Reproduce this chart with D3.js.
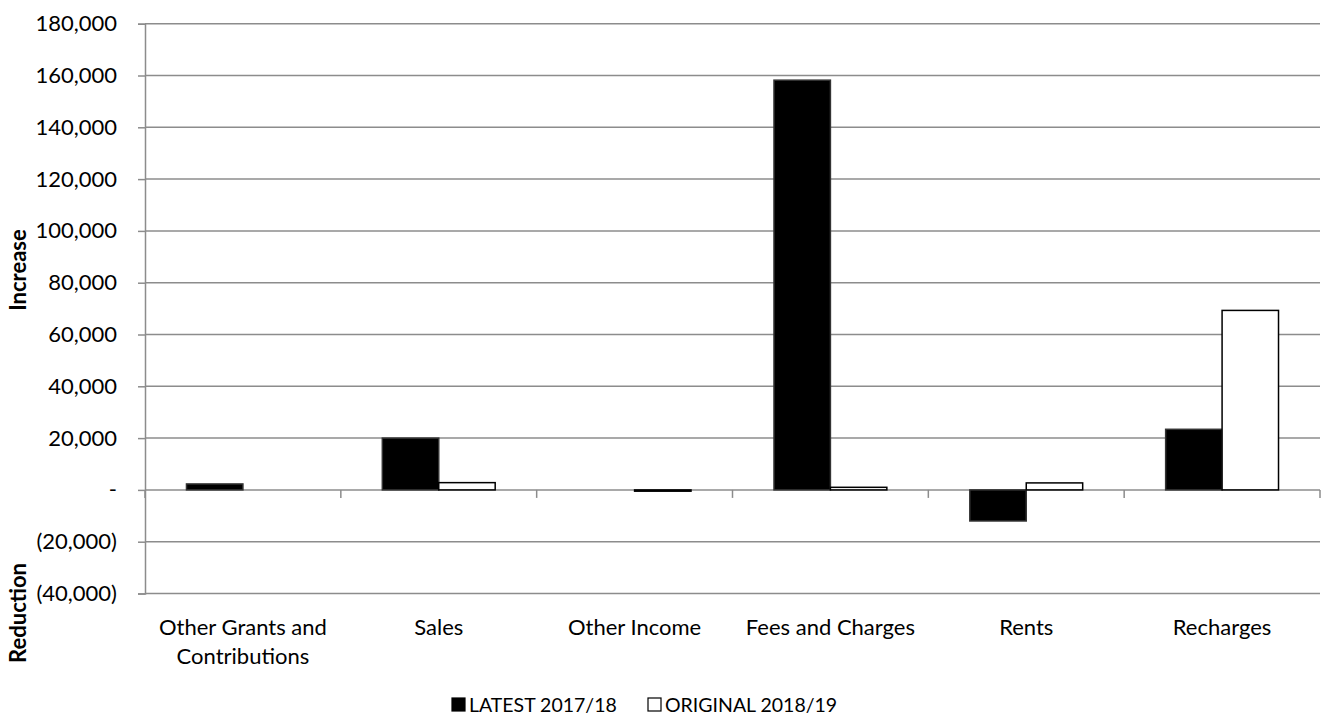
<!DOCTYPE html>
<html><head><meta charset="utf-8">
<script src="https://cdn.jsdelivr.net/npm/d3@7"></script>
<style>body{margin:0;background:#fff} text{font-family:Lato,"Open Sans",sans-serif;fill:#000}</style>
</head><body><svg id="c" width="1332" height="720"></svg>
<script>
const categories = ["Other Grants and Contributions","Sales","Other Income","Fees and Charges","Rents","Recharges"];
const categoryLines = [["Other Grants and","Contributions"],["Sales"],["Other Income"],["Fees and Charges"],["Rents"],["Recharges"]];
const seriesNames = ["LATEST 2017/18","ORIGINAL 2018/19"];
const latest = [2300, 20000, 0, 158200, -12000, 23400];
const original = [0, 2800, -500, 1000, 2700, 69300];
const yTicks = [-40000,-20000,0,20000,40000,60000,80000,100000,120000,140000,160000,180000];

const svg = d3.select("#c");
const L = 145, R = 1320, T = 23.7, B = 593.5;
const y = d3.scaleLinear().domain([-40000,180000]).range([B,T]);
const x0 = d3.scaleBand().domain(categories).range([L,R]).padding(0);
const x1 = d3.scaleBand().domain(seriesNames).range([0,x0.bandwidth()]).paddingInner(0).paddingOuter(0.735);
const fmt = v => v === 0 ? "-" : (v < 0 ? "(" + d3.format(",")(-v) + ")" : d3.format(",")(v));
const grid = "#8c8c8c";

// gridlines
svg.append("g").selectAll("line").data(yTicks).join("line")
  .attr("x1",L).attr("x2",R).attr("y1",d=>y(d)).attr("y2",d=>y(d))
  .attr("stroke",grid).attr("stroke-width",1.5);

// y axis
const ya = svg.append("g").attr("transform",`translate(${L},0)`)
  .call(d3.axisLeft(y).tickValues(yTicks).tickFormat(fmt).tickSize(7).tickPadding(21));
ya.select(".domain").attr("stroke",grid).attr("stroke-width",1.5);
ya.selectAll(".tick line").attr("stroke",grid).attr("stroke-width",1.5);
ya.selectAll(".tick text").attr("font-size",22).attr("font-family","Lato").attr("fill","#000");

// category tick marks on zero line
const bounds = d3.range(categories.length+1).map(i => i < categories.length ? x0(categories[i]) : R);
svg.append("g").selectAll("line").data(bounds).join("line")
  .attr("x1",d=>d).attr("x2",d=>d).attr("y1",y(0)).attr("y2",y(0)+8)
  .attr("stroke",grid).attr("stroke-width",1.5);

// bars
const rows = categories.map((c,i)=>({c, vals:[{s:seriesNames[0],v:latest[i]},{s:seriesNames[1],v:original[i]}]}));
const g = svg.append("g").selectAll("g").data(rows).join("g").attr("transform",d=>`translate(${x0(d.c)},0)`);
g.selectAll("rect").data(d=>d.vals.filter(e=>e.v!==0)).join("rect")
  .attr("x",d=>x1(d.s)).attr("width",x1.bandwidth())
  .attr("y",d=>y(Math.max(0,d.v))).attr("height",d=>Math.abs(y(d.v)-y(0)))
  .attr("fill",d=>d.s===seriesNames[0]?"#000":"#fff")
  .attr("stroke",d=>d.s===seriesNames[0]?"#333":"#000").attr("stroke-width",1.5);

// category labels
svg.append("g").selectAll("text").data(rows).join("text")
  .attr("x",d=>x0(d.c)+x0.bandwidth()/2).attr("y",635).attr("text-anchor","middle").attr("font-size",22)
  .selectAll("tspan").data((d,i)=>categoryLines[i]).join("tspan")
  .attr("x",function(){return this.parentNode.getAttribute("x");}).attr("dy",(d,i)=>i===0?0:29).text(d=>d);

// axis titles
svg.append("text").attr("transform","translate(26,270) rotate(-90)").attr("text-anchor","middle")
  .attr("font-size",22).attr("font-weight","bold").text("Increase");
svg.append("text").attr("transform","translate(26,613) rotate(-90)").attr("text-anchor","middle")
  .attr("font-size",22).attr("font-weight","bold").text("Reduction");

// legend
const leg = svg.append("g");
const lx = [452, 648];
seriesNames.forEach((s,i)=>{
  leg.append("rect").attr("x",lx[i]).attr("y",698).attr("width",13).attr("height",13)
    .attr("fill",i===0?"#000":"#fff").attr("stroke","#000").attr("stroke-width",1.2);
  leg.append("text").attr("x",lx[i]+17).attr("y",712).attr("font-size",19.5).text(s);
});
</script></body></html>
